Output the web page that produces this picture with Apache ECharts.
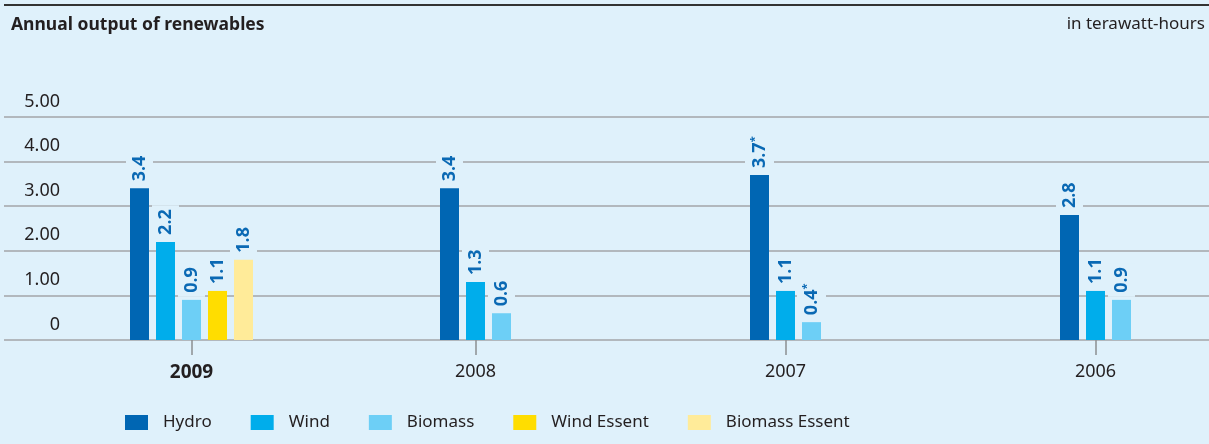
<!DOCTYPE html>
<html>
<head>
<meta charset="utf-8">
<script src="https://cdn.jsdelivr.net/npm/echarts@6/dist/echarts.min.js"></script>
<style>
html,body{margin:0;padding:0;background:#dff1fb;}
#chart{width:1209px;height:444px;}
</style>
</head>
<body>
<div id="chart"></div>
<script>
// ---- data ----
const years = ['2009', '2008', '2007', '2006'];
const highlightYear = '2009';
const seriesNames = ['Hydro', 'Wind', 'Biomass', 'Wind Essent', 'Biomass Essent'];
const hydro = [3.4, 3.4, 3.7, 2.8];
const wind = [2.2, 1.3, 1.1, 1.1];
const biomass = [0.9, 0.6, 0.4, 0.9];
const windEssent = [1.1, null, null, null];
const biomassEssent = [1.8, null, null, null];
const hydroNotes = ['', '', '*', ''];
const biomassNotes = ['', '', '*', ''];
const noNotes = ['', '', '', ''];
const yTicks = [0, 1, 2, 3, 4, 5];

// ---- styling / layout ----
const BG = '#dff1fb';
const TXT = '#231f20';
const LABEL_BLUE = '#0a69b4';
const GRID_COLOR = '#a3a5a8';
const colors = ['#0066b3', '#00adeb', '#6dcff6', '#ffdd00', '#ffeb99'];
const BAND = 310, BAR_W = 19, GAP = 7;
const PLOT_TOP = 117, PLOT_BOTTOM = 104;
const BAR_LEFT = 36.5;

const allData = [hydro, wind, biomass, windEssent, biomassEssent];
const allNotes = [hydroNotes, noNotes, biomassNotes, noNotes, noNotes];

// group centres (in band units) depend on how many bars each year has
const nSlots = allData.length;
const slotOffset = (BAND - (nSlots * BAR_W + (nSlots - 1) * GAP)) / 2;
const groupCenters = years.map((y, i) => {
  const n = allData.filter(d => d[i] != null).length;
  return i + (slotOffset + (n * BAR_W + (n - 1) * GAP) / 2) / BAND;
});

const series = seriesNames.map((name, k) => ({
  name: name,
  type: 'bar',
  xAxisIndex: 1,
  yAxisIndex: 1,
  data: allData[k],
  barWidth: BAR_W,
  barGap: (GAP / BAR_W * 100) + '%',
  itemStyle: { color: colors[k] },
  label: {
    show: true,
    position: 'top',
    rotate: 90,
    align: 'left',
    verticalAlign: 'middle',
    distance: 3,
    backgroundColor: BG,
    padding: [4, 4, 4, 4],
    formatter: p => {
      const note = allNotes[k][p.dataIndex];
      const v = p.value.toFixed(1);
      return note ? '{v|' + v + '}{s|' + note + '}' : '{v|' + v + '}';
    },
    rich: {
      v: { fontFamily: 'Noto Sans', fontWeight: 'bold', fontSize: 18, color: LABEL_BLUE, lineHeight: 19 },
      s: { fontFamily: 'Noto Sans', fontWeight: 'bold', fontSize: 11, color: LABEL_BLUE, padding: [0, 0, 10, 0] }
    }
  }
}));

const chart = echarts.init(document.getElementById('chart'), null, { renderer: 'canvas' });
chart.setOption({
  backgroundColor: BG,
  animation: false,
  title: [
    { text: 'Annual output of renewables', left: 11, top: 16, padding: 0,
      textStyle: { fontFamily: 'Noto Sans', fontWeight: 'bold', fontSize: 17.5, color: TXT } },
    { text: 'in terawatt-hours', right: 4, top: 16, padding: 0,
      textStyle: { fontFamily: 'Noto Sans', fontWeight: 'normal', fontSize: 17, color: TXT } }
  ],
  graphic: [
    { type: 'line', shape: { x1: 4, y1: 5, x2: 1209, y2: 5 }, style: { stroke: '#333333', lineWidth: 2 } }
  ],
  legend: {
    data: seriesNames,
    left: 125, top: 412.5, padding: 0,
    icon: 'rect', itemWidth: 23, itemHeight: 15, itemGap: 39,
    textStyle: { fontFamily: 'Noto Sans', fontSize: 17, color: TXT, padding: [0, 0, 0, 10], lineHeight: 20 }
  },
  grid: [
    { left: 4, right: 0, top: PLOT_TOP, bottom: PLOT_BOTTOM, outerBoundsMode: 'none', containLabel: false },
    { left: BAR_LEFT, width: BAND * years.length, top: PLOT_TOP, bottom: PLOT_BOTTOM, outerBoundsMode: 'none', containLabel: false }
  ],
  xAxis: [
    { gridIndex: 0, type: 'value', min: 0, max: 1, show: false },
    { gridIndex: 1, type: 'category', data: years, show: false, position: 'bottom' },
    { gridIndex: 1, type: 'value', min: 0, max: years.length, position: 'bottom',
      axisLine: { show: false, onZero: false },
      splitLine: { show: false },
      axisTick: { show: true, customValues: groupCenters, length: 15, lineStyle: { color: '#8c8e91', width: 1.5 } },
      axisLabel: {
        show: true, customValues: groupCenters, margin: 23,
        formatter: v => {
          const y = years[Math.floor(v)];
          return y === highlightYear ? '{b|' + y + '}' : '{r|' + y + '}';
        },
        rich: {
          b: { fontFamily: 'Noto Sans', fontWeight: 'bold', fontSize: 19, color: TXT },
          r: { fontFamily: 'Noto Sans', fontWeight: 'normal', fontSize: 18, color: TXT }
        }
      }
    }
  ],
  yAxis: [
    { gridIndex: 0, type: 'value', min: yTicks[0], max: yTicks[yTicks.length - 1], interval: 1,
      axisLine: { show: false }, axisTick: { show: false },
      splitLine: { show: true, lineStyle: { color: GRID_COLOR, width: 1.5 } },
      axisLabel: {
        inside: true, align: 'right', margin: 56, verticalAlign: 'bottom',
        lineHeight: 31,
        fontFamily: 'Noto Sans', fontSize: 18, color: TXT,
        formatter: v => v === 0 ? '0' : v.toFixed(2)
      }
    },
    { gridIndex: 1, type: 'value', min: yTicks[0], max: yTicks[yTicks.length - 1], show: false }
  ],
  series: series
});
</script>
</body>
</html>
